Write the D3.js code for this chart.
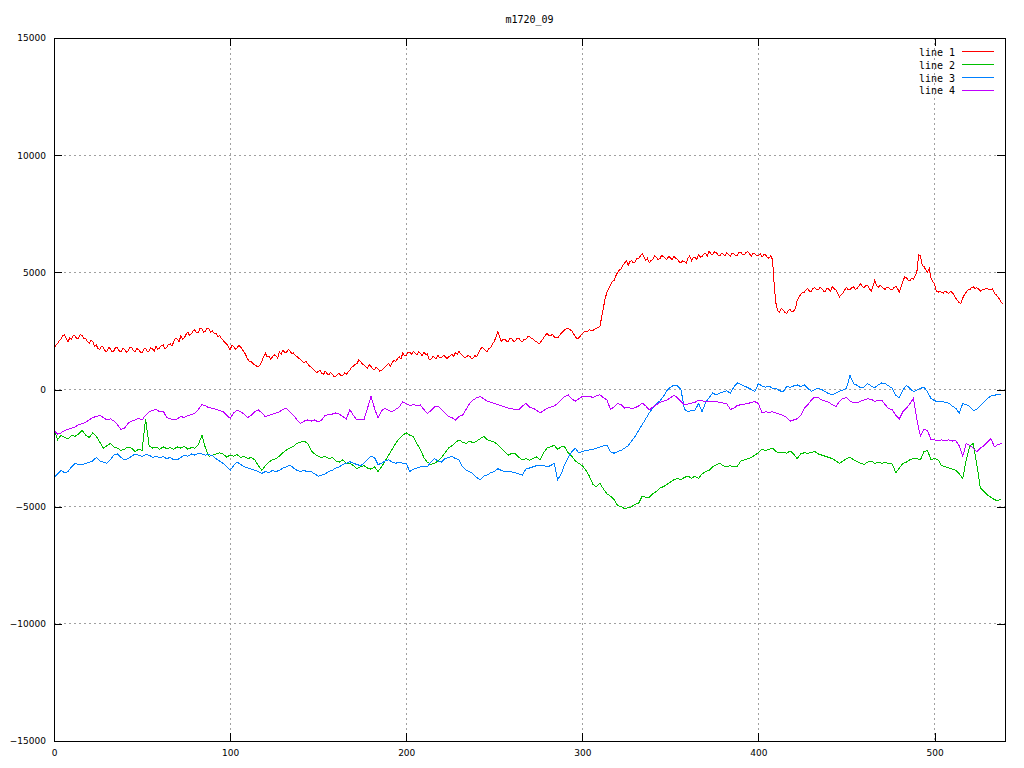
<!DOCTYPE html>
<html>
<head>
<meta charset="utf-8">
<script src="https://cdn.jsdelivr.net/npm/d3@7"></script>
<style>
  html, body { margin: 0; padding: 0; background: #fff; }
  svg { display: block; }
</style>
</head>
<body>
<svg id="chart" width="1024" height="768"></svg>
<script>
const chartTitle = "m1720_09";
const seriesNames = ["line 1", "line 2", "line 3", "line 4"];
const seriesColors = ["#ff0000", "#00c000", "#0080ff", "#c000ff"];
const xTicks = [0, 100, 200, 300, 400, 500];
const yTicks = [-15000, -10000, -5000, 0, 5000, 10000, 15000];
// sample positions along x
const xEvery1 = d3.range(0, 540, 1);   // line 1
const xEvery2 = d3.range(0, 540, 2);   // lines 2-4

const line1 = [
1750,1900,1950,2100,2150,2300,2350,2150,2050,2200,2150,2300,2280,2150,2200,2350,2300,2150,2180,2050,
1980,2100,2050,1850,1900,1750,1700,1850,1800,1650,1620,1800,1750,1600,1650,1800,1780,1650,1600,1750,
1720,1580,1650,1780,1800,1650,1620,1750,1700,1600,1580,1720,1760,1620,1650,1780,1720,1650,1850,1720,
1780,1880,1900,1750,1800,1920,1950,1850,2050,2180,2150,2050,2280,2150,2200,2350,2450,2300,2380,2500,
2550,2420,2450,2620,2600,2450,2480,2620,2580,2450,2500,2380,2400,2250,2300,2180,2100,2000,1950,1820,
1700,1880,1850,1720,1780,1880,1820,1700,1600,1450,1300,1200,1180,1100,1050,1000,980,1050,1200,1400,
1550,1400,1420,1300,1380,1480,1450,1350,1600,1500,1680,1580,1580,1700,1650,1520,1560,1450,1400,1330,
1280,1200,1150,1200,1100,1000,950,880,800,720,760,820,700,640,780,680,620,720,660,560,
560,650,680,580,600,700,640,760,830,950,1000,1080,1100,1250,1200,1100,1050,980,920,1050,
980,880,850,950,880,780,820,900,950,1050,1100,1000,1150,1250,1200,1300,1400,1300,1550,1450,
1450,1580,1600,1500,1620,1550,1480,1600,1550,1450,1600,1500,1520,1300,1280,1400,1380,1300,1450,1350,
1350,1450,1420,1320,1380,1450,1500,1420,1580,1500,1620,1520,1450,1380,1380,1450,1420,1330,1350,1450,
1400,1550,1700,1800,1750,1650,1620,1750,1800,1950,2050,2250,2480,2250,2050,2150,2150,2050,2050,2180,
2150,2050,2080,2200,2180,2080,2050,2150,2150,2250,2250,2180,2150,2080,2050,1980,1980,2100,2200,2320,
2400,2300,2300,2350,2250,2200,2200,2300,2400,2480,2550,2600,2620,2550,2500,2380,2250,2180,2200,2300,
2400,2450,2500,2480,2550,2500,2520,2580,2600,2650,2700,3100,3500,3900,4150,4300,4450,4600,4650,4850,
5000,5100,5150,5300,5400,5500,5300,5450,5500,5400,5450,5600,5600,5700,5800,5650,5500,5600,5400,5500,
5550,5700,5650,5550,5580,5720,5680,5600,5550,5680,5620,5550,5700,5600,5550,5450,5400,5500,5450,5380,
5600,5700,5500,5620,5650,5550,5750,5650,5680,5780,5800,5700,5900,5780,5750,5880,5850,5750,5700,5820,
5780,5700,5850,5750,5680,5800,5800,5700,5720,5850,5850,5750,5750,5850,5880,5780,5700,5820,5800,5700,
5720,5800,5650,5750,5750,5650,5600,5700,5550,4400,3650,3350,3300,3450,3400,3300,3250,3380,3420,3300,
3350,3450,3800,3950,4050,4150,4150,4250,4300,4200,4200,4320,4350,4250,4250,4350,4300,4200,4200,4320,
4280,4200,4400,4300,4250,4100,3950,4050,4100,4250,4350,4250,4250,4350,4380,4280,4300,4420,4500,4400,
4350,4450,4450,4300,4200,4400,4650,4450,4350,4450,4400,4300,4280,4380,4350,4250,4250,4350,4400,4300,
4150,4400,4600,4800,4780,4650,4650,4750,4700,4850,5050,5750,5700,5300,5250,5100,5000,5150,4750,4600,
4500,4200,4150,4200,4150,4120,4200,4150,4100,4180,4150,4050,3900,3800,3700,3680,3900,4050,4150,4250,
4250,4350,4380,4300,4350,4280,4200,4250,4280,4300,4300,4280,4250,4300,4100,4050,3950,3850,3700,3650];

const line2 = [-1700,-2150,-1950,-2050,-2100,-1950,-2000,-1900,-1750,-1950,-2050,-1850,-2000,-2250,-2500,-2400,-2300,-2450,-2500,-2600,
-2550,-2450,-2500,-2650,-2550,-2600,-1250,-2400,-2500,-2450,-2550,-2450,-2520,-2480,-2550,-2450,-2500,-2420,-2550,-2480,
-2500,-2350,-1950,-2500,-2850,-2800,-2750,-2700,-2750,-2880,-2800,-2850,-2780,-2900,-2850,-2950,-2900,-3000,-3250,-3450,
-3250,-3100,-3000,-2950,-2850,-2700,-2580,-2500,-2420,-2300,-2250,-2200,-2300,-2600,-2750,-2850,-2900,-2850,-2950,-2900,
-3050,-3100,-3000,-3150,-3150,-3250,-3380,-3300,-3250,-3350,-3400,-3300,-3500,-3300,-3050,-2800,-2550,-2300,-2100,-1950,
-1850,-1950,-2000,-2300,-2550,-2900,-3100,-3200,-3150,-3050,-2900,-2700,-2500,-2400,-2250,-2150,-2250,-2300,-2200,-2280,
-2200,-2100,-2000,-2150,-2200,-2250,-2350,-2500,-2650,-2800,-2720,-2750,-2900,-3000,-2950,-3020,-2950,-2880,-3000,-2700,
-2500,-2450,-2380,-2550,-2450,-2450,-2700,-2850,-3050,-3150,-3250,-3450,-3700,-4050,-4150,-4000,-4250,-4450,-4550,-4700,
-4950,-5000,-5080,-5050,-5000,-4900,-4850,-4550,-4600,-4600,-4450,-4350,-4200,-4150,-4050,-3950,-3850,-3800,-3850,-3750,
-3700,-3780,-3700,-3800,-3600,-3500,-3450,-3300,-3220,-3150,-3250,-3300,-3250,-3300,-3280,-3050,-3000,-2950,-2900,-2800,
-2700,-2550,-2600,-2550,-2500,-2650,-2700,-2680,-2720,-2620,-2750,-2950,-2750,-2700,-2720,-2680,-2650,-2750,-2800,-2850,
-2900,-2950,-3050,-3150,-3050,-2950,-2880,-3000,-3080,-3150,-3200,-3100,-3050,-3150,-3100,-3150,-3120,-3150,-3180,-3550,
-3350,-3150,-3100,-3000,-2950,-2950,-3000,-2650,-2600,-3000,-2950,-3000,-3250,-3300,-3350,-3400,-3450,-3600,-3800,-3000,
-2400,-2300,-3200,-4200,-4350,-4500,-4600,-4700,-4750,-4650];

const line3 = [-3750,-3600,-3450,-3550,-3500,-3300,-3150,-3200,-3220,-3150,-3100,-3050,-2900,-3050,-3100,-3150,-3000,-2800,-2750,-2900,
-3000,-2950,-2850,-2750,-2800,-2850,-2780,-2800,-2900,-2850,-2900,-2870,-2950,-2900,-3000,-3000,-2900,-2800,-2850,-2750,
-2800,-2720,-2750,-2800,-2780,-2820,-2950,-3050,-3150,-3300,-3450,-3250,-3100,-3200,-3300,-3350,-3400,-3450,-3500,-3580,
-3500,-3550,-3450,-3500,-3450,-3350,-3300,-3220,-3350,-3450,-3500,-3450,-3520,-3500,-3600,-3700,-3650,-3600,-3500,-3450,
-3350,-3300,-3200,-3150,-3080,-3150,-3200,-3250,-3150,-3000,-2850,-2900,-3200,-3150,-3050,-3000,-3100,-3150,-3100,-3150,
-3150,-3500,-3400,-3350,-3300,-3280,-3300,-3100,-2950,-3050,-3100,-2950,-2900,-2850,-2950,-3000,-3300,-3450,-3500,-3600,
-3750,-3850,-3700,-3650,-3550,-3500,-3380,-3450,-3500,-3480,-3520,-3550,-3600,-3650,-3380,-3350,-3300,-3250,-3220,-3250,
-3300,-3250,-3150,-3850,-3600,-3200,-2900,-2650,-2500,-2700,-2650,-2600,-2580,-2550,-2500,-2450,-2400,-2380,-2650,-2720,
-2650,-2600,-2500,-2400,-2200,-2000,-1750,-1500,-1250,-1000,-800,-600,-500,-300,-50,100,180,150,0,-850,
-950,-900,-880,-600,-950,-550,-350,-150,-230,-150,-100,-50,-160,100,280,220,150,80,0,-90,
250,150,100,150,50,50,-50,-100,120,100,150,200,120,200,50,-80,0,50,0,-100,
-180,-230,-150,-80,-20,50,600,250,180,80,100,250,150,80,200,280,250,150,50,-250,
-350,-20,180,50,-90,-20,50,100,-100,-380,-480,-520,-500,-550,-580,-700,-800,-1000,-600,-650,
-730,-900,-850,-700,-550,-380,-280,-250,-200,-220];

const line4 = [-1750,-1900,-1850,-1750,-1700,-1650,-1600,-1500,-1450,-1400,-1300,-1200,-1150,-1100,-1200,-1300,-1250,-1350,-1500,-1700,
-1650,-1450,-1350,-1300,-1220,-1300,-1100,-950,-900,-850,-950,-920,-1200,-1250,-1300,-1250,-1150,-1200,-1100,-1080,
-1000,-850,-650,-700,-780,-800,-850,-900,-950,-1100,-1230,-1000,-870,-950,-1050,-1200,-1100,-950,-870,-1000,
-1160,-1100,-1050,-1000,-950,-850,-800,-950,-1100,-1300,-1450,-1350,-1300,-1350,-1300,-1380,-1300,-1100,-1080,-1050,
-1000,-1050,-1150,-1250,-870,-1100,-1300,-1300,-1300,-800,-300,-800,-1230,-900,-800,-900,-950,-850,-750,-520,
-600,-680,-650,-680,-660,-850,-1020,-900,-750,-700,-850,-1000,-1150,-1200,-1300,-1150,-1100,-850,-600,-450,
-350,-300,-400,-500,-550,-600,-650,-700,-750,-800,-820,-850,-870,-700,-600,-750,-800,-880,-1000,-900,
-800,-750,-700,-600,-450,-300,-230,-400,-500,-400,-300,-320,-280,-350,-260,-230,-350,-450,-850,-750,
-600,-650,-800,-750,-820,-780,-700,-580,-700,-870,-750,-650,-550,-500,-450,-350,-250,-350,-520,-650,
-620,-580,-550,-450,-480,-520,-500,-520,-520,-550,-580,-600,-850,-800,-680,-650,-620,-600,-550,-520,
-600,-1000,-950,-980,-950,-1000,-1050,-1100,-1200,-1350,-1300,-1250,-1100,-800,-650,-450,-320,-350,-450,-500,
-550,-650,-730,-500,-380,-350,-500,-550,-580,-500,-450,-400,-420,-500,-480,-450,-650,-820,-870,-1100,
-1250,-950,-800,-600,-380,-1300,-2000,-1700,-1750,-2150,-2150,-2180,-2150,-2180,-2150,-2200,-2180,-2400,-2850,-2300,
-2400,-2500,-2650,-2500,-2400,-2250,-2100,-2450,-2350,-2300];

const seriesValues = [line1, line2, line3, line4];
const seriesX = [xEvery1, xEvery2, xEvery2, xEvery2];

(function draw() {
  const svg = d3.select("#chart");
  const W = 1024, H = 768;
  const pLeft = 54, pRight = 1005, pTop = 38, pBottom = 741;

  const x = d3.scaleLinear().domain([0, 540]).range([pLeft, pRight]);
  const y = d3.scaleLinear().domain([-15000, 15000]).range([pBottom, pTop]);

  svg.append("rect").attr("width", W).attr("height", H).attr("fill", "#fff");

  // grid
  const grid = svg.append("g").attr("stroke", "#a0a0a0").attr("stroke-width", 1)
    .attr("stroke-dasharray", "2,3").attr("shape-rendering", "crispEdges");
  xTicks.filter(t => t > 0 && x(t) < pRight - 1).forEach(t => {
    grid.append("line").attr("x1", x(t)).attr("x2", x(t)).attr("y1", pTop).attr("y2", pBottom);
  });
  yTicks.filter(t => t > -15000 && t < 15000).forEach(t => {
    grid.append("line").attr("x1", pLeft).attr("x2", pRight).attr("y1", y(t)).attr("y2", y(t));
  });

  // axes
  const fontTick = "DejaVu Sans, sans-serif";
  function styleAxis(g) {
    g.select(".domain").remove();
    g.selectAll(".tick line").attr("stroke", "#000").attr("shape-rendering", "crispEdges");
    g.selectAll(".tick text").attr("fill", "#000").attr("font-family", fontTick).attr("font-size", 9);
  }
  svg.append("g").attr("transform", `translate(${pLeft},0)`)
    .call(d3.axisLeft(y).tickValues(yTicks).tickSizeInner(-8).tickSizeOuter(0).tickPadding(8).tickFormat(d3.format("d")))
    .call(styleAxis);
  svg.append("g").attr("transform", `translate(${pRight},0)`)
    .call(d3.axisRight(y).tickValues(yTicks).tickSizeInner(-8).tickSizeOuter(0).tickFormat(""))
    .call(styleAxis);
  svg.append("g").attr("transform", `translate(0,${pBottom})`)
    .call(d3.axisBottom(x).tickValues(xTicks).tickSizeInner(-8).tickSizeOuter(0).tickPadding(9).tickFormat(d3.format("d")))
    .call(styleAxis);
  svg.append("g").attr("transform", `translate(0,${pTop})`)
    .call(d3.axisTop(x).tickValues(xTicks).tickSizeInner(-8).tickSizeOuter(0).tickFormat(""))
    .call(styleAxis);

  // lines
  seriesValues.forEach((vals, k) => {
    const xs = seriesX[k];
    const lineGen = d3.line().x((d, i) => x(xs[i])).y(d => y(d));
    svg.append("path").datum(vals)
      .attr("d", lineGen)
      .attr("fill", "none")
      .attr("stroke", seriesColors[k])
      .attr("stroke-width", 1)
      .attr("shape-rendering", "crispEdges");
  });

  // border
  svg.append("rect").attr("x", pLeft).attr("y", pTop).attr("width", pRight - pLeft).attr("height", pBottom - pTop)
    .attr("fill", "none").attr("stroke", "#000").attr("stroke-width", 1).attr("shape-rendering", "crispEdges");

  // title
  svg.append("text").attr("x", (pLeft + pRight) / 2).attr("y", 23).attr("text-anchor", "middle")
    .attr("font-family", "DejaVu Sans Mono, monospace").attr("font-size", 10).attr("fill", "#000")
    .text(chartTitle);

  // legend
  const legend = svg.append("g");
  seriesNames.forEach((name, k) => {
    const ly = 51.7 + 12.9 * k;
    legend.append("text").attr("x", 955).attr("y", ly + 4).attr("text-anchor", "end")
      .attr("font-family", "DejaVu Sans Mono, monospace").attr("font-size", 10).attr("fill", "#000")
      .text(name);
    legend.append("line").attr("x1", 962).attr("x2", 994).attr("y1", ly).attr("y2", ly)
      .attr("stroke", seriesColors[k]).attr("stroke-width", 1).attr("shape-rendering", "crispEdges");
  });
})();
</script>
</body>
</html>
